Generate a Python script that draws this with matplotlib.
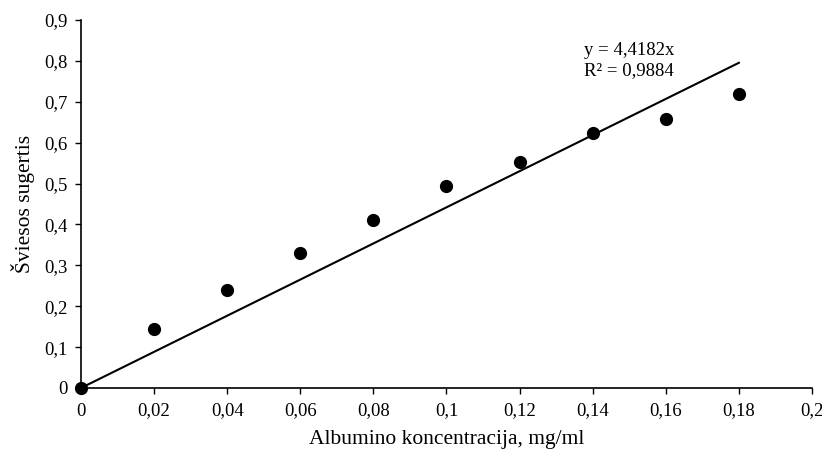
import matplotlib
matplotlib.use("Agg")
import matplotlib.pyplot as plt
import numpy as np

plt.rcParams['font.family'] = ['Liberation Serif', 'DejaVu Serif']

# albumin concentration (mg/ml) vs absorbance
conc = [0, 0.02, 0.04, 0.06, 0.08, 0.10, 0.12, 0.14, 0.16, 0.18]
absorb = [0, 0.144, 0.239, 0.330, 0.412, 0.494, 0.553, 0.623, 0.659, 0.718]
slope = 4.4182
r2 = 0.9884

xticks = [0, 0.02, 0.04, 0.06, 0.08, 0.1, 0.12, 0.14, 0.16, 0.18, 0.2]
xticklabels = ['0', '0,02', '0,04', '0,06', '0,08', '0,1', '0,12', '0,14', '0,16', '0,18', '0,2']
yticks = [0, 0.1, 0.2, 0.3, 0.4, 0.5, 0.6, 0.7, 0.8, 0.9]
yticklabels = ['0', '0,1', '0,2', '0,3', '0,4', '0,5', '0,6', '0,7', '0,8', '0,9']

fig = plt.figure(figsize=(8.22, 4.51), dpi=100)
ax = fig.add_axes([0.0985, 0.1397, 0.8893, 0.816])

# trend line through origin
xl = np.array([0, max(conc)])
ax.plot(xl, slope * xl, color='black', lw=1.5, zorder=2)
ax.plot(conc, absorb, 'o', color='black', ms=8.5, zorder=3, clip_on=False)

ax.set_xlim(0, 0.2)
ax.set_ylim(0, 0.9)
ax.set_xticks(xticks)
ax.set_xticklabels(xticklabels)
ax.set_yticks(yticks)
ax.set_yticklabels(yticklabels)
ax.tick_params(direction='out', length=4.5, width=1, labelsize=13.5)
ax.tick_params(axis='x', pad=6)
ax.tick_params(axis='y', pad=5)

for s in ['top', 'right']:
    ax.spines[s].set_visible(False)
for s in ['left', 'bottom']:
    ax.spines[s].set_linewidth(1.2)

ax.set_xlabel('Albumino koncentracija, mg/ml', fontsize=15.5)
ax.set_ylabel('Šviesos sugertis', fontsize=15.5)
ax.xaxis.set_label_coords(0.5, -0.115)
ax.yaxis.set_label_coords(-0.063, 0.5)

ax.text(0.1377, 0.80, 'y = 4,4182x\nR² = 0,9884', fontsize=13.5, ha='left', va='center',
        linespacing=1.25)

fig.savefig('out.png', dpi=100)
